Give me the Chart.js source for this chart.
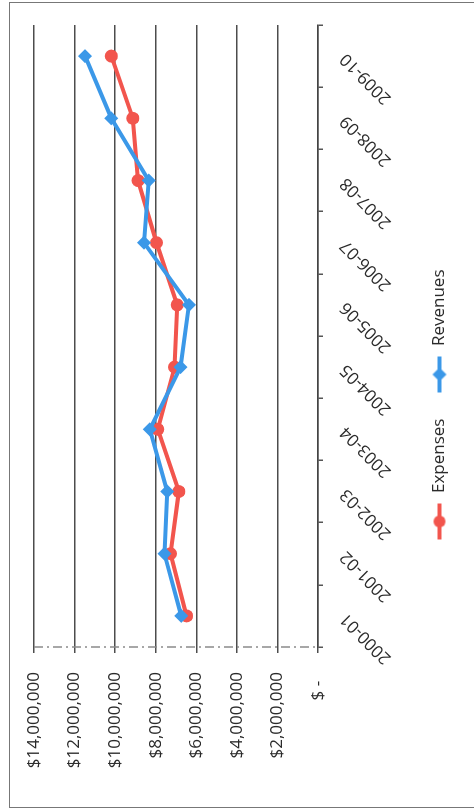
<!DOCTYPE html>
<html>
<head>
<meta charset="utf-8">
<title>Expenses vs Revenues</title>
<script src="https://cdn.jsdelivr.net/npm/chart.js@4/dist/chart.umd.min.js"></script>
<style>
    html, body { margin: 0; padding: 0; background: #fff; width: 474px; height: 812px; overflow: hidden; }
    /* chart is built upright (812x474) and turned a quarter turn left, like the scan */
    #rot { position: absolute; left: 0; top: 0; width: 812px; height: 474px;
           transform-origin: 0 0; transform: translateY(812px) rotate(-90deg); }
    #frame { position: absolute; left: 4px; top: 9px; width: 804px; height: 470px;
             border: 1px solid #777; border-bottom: none; }
    #chart { position: absolute; left: 0; top: 0; }
</style>
</head>
<body>
<div id="rot">
    <div id="frame"></div>
    <canvas id="chart" width="812" height="474"></canvas>
</div>
<script>
// Data
const years = ['2000-01', '2001-02', '2002-03', '2003-04', '2004-05',
               '2005-06', '2006-07', '2007-08', '2008-09', '2009-10'];
const expenses = [6480000, 7270000, 6860000, 7900000, 7070000,
                  6940000, 7960000, 8870000, 9130000, 10190000];
const revenues = [6740000, 7570000, 7430000, 8290000, 6780000,
                  6360000, 8580000, 8340000, 10190000, 11480000];
const tickValues = [0, 2000000, 4000000, 6000000, 8000000, 10000000, 12000000, 14000000];
const tickLabels = ['$ -  ', '$2,000,000', '$4,000,000', '$6,000,000',
                    '$8,000,000', '$10,000,000', '$12,000,000', '$14,000,000'];

const RED = '#f2554d';
const BLUE = '#3b98e8';
const FONT = "'Open Sans', sans-serif";
const TEXT = '#2b2b2b';

// legend swatch: short line with the marker on it
function legendIcon(color, shape) {
    const c = document.createElement('canvas');
    c.width = 40;
    c.height = 16;
    const g = c.getContext('2d');
    g.strokeStyle = color;
    g.fillStyle = color;
    g.lineWidth = 4;
    g.beginPath();
    g.moveTo(2, 8);
    g.lineTo(38, 8);
    g.stroke();
    g.beginPath();
    if (shape === 'circle') {
        g.arc(20, 8, 6, 0, Math.PI * 2);
    } else {
        g.moveTo(20, 1); g.lineTo(27, 8); g.lineTo(20, 15); g.lineTo(13, 8); g.closePath();
    }
    g.fill();
    return c;
}
const icons = [legendIcon(RED, 'circle'), legendIcon(BLUE, 'diamond')];

// value axis line: light dash-dot look of the scan
const axisLine = {
    id: 'axisLine',
    beforeDatasetsDraw(chart) {
        const { ctx, chartArea } = chart;
        ctx.save();
        ctx.strokeStyle = '#8a8a8a';
        ctx.lineWidth = 1.5;
        ctx.setLineDash([9, 4, 2, 4]);
        ctx.beginPath();
        ctx.moveTo(chartArea.left, chartArea.top);
        ctx.lineTo(chartArea.left, chartArea.bottom);
        ctx.stroke();
        ctx.restore();
    }
};

new Chart(document.getElementById('chart'), {
    type: 'line',
    data: {
        labels: years,
        datasets: [
            {
                label: 'Expenses',
                data: expenses,
                borderColor: RED,
                backgroundColor: RED,
                borderWidth: 4,
                pointStyle: 'circle',
                pointRadius: 6.5,
                pointBorderWidth: 0,
                tension: 0,
                order: 1
            },
            {
                label: 'Revenues',
                data: revenues,
                borderColor: BLUE,
                backgroundColor: BLUE,
                borderWidth: 4,
                pointStyle: 'rectRot',
                pointRadius: 7,
                pointBorderWidth: 0,
                tension: 0,
                order: 0
            }
        ]
    },
    plugins: [axisLine],
    options: {
        responsive: false,
        animation: false,
        devicePixelRatio: 1,
        layout: { padding: { top: 34, right: 25, left: 26, bottom: 16 } },
        plugins: {
            tooltip: { enabled: false },
            legend: {
                position: 'bottom',
                labels: {
                    usePointStyle: true,
                    pointStyleWidth: 40,
                    padding: 24,
                    color: TEXT,
                    font: { family: FONT, size: 17 },
                    generateLabels: function(chart) {
                        const items = Chart.defaults.plugins.legend.labels.generateLabels(chart);
                        items.forEach(it => { it.pointStyle = icons[it.datasetIndex]; });
                        return items.sort((a, b) => a.datasetIndex - b.datasetIndex);
                    }
                }
            }
        },
        scales: {
            x: {
                offset: true,
                afterFit: s => { s.height = 89; },
                grid: {
                    display: true,
                    drawOnChartArea: false,
                    drawTicks: true,
                    tickLength: 5,
                    offset: true,
                    color: '#555',
                    lineWidth: 1.5
                },
                border: { display: true, color: '#444', width: 1.5 },
                ticks: {
                    minRotation: 45,
                    maxRotation: 45,
                    padding: 13,
                    color: TEXT,
                    font: { family: FONT, size: 17 }
                }
            },
            y: {
                min: 0,
                max: 14000000,
                afterFit: s => { s.width = 139; },
                afterBuildTicks: s => { s.ticks = tickValues.map(v => ({ value: v })); },
                grid: {
                    color: '#4d4d4d',
                    lineWidth: 1.5,
                    drawTicks: true,
                    tickLength: 6
                },
                border: { display: false },
                ticks: {
                    padding: 19,
                    color: TEXT,
                    font: { family: FONT, size: 17 },
                    callback: function(value) {
                        const i = tickValues.indexOf(value);
                        return i >= 0 ? tickLabels[i] : '';
                    }
                }
            }
        }
    }
});
</script>
</body>
</html>
